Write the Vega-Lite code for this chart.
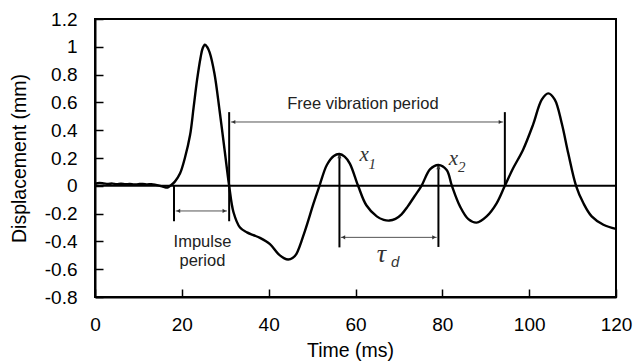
{
  "$schema": "https://vega.github.io/schema/vega-lite/v6.json",
  "width": 521,
  "height": 278,
  "autosize": {"type": "none"},
  "padding": {"left": 95, "top": 19, "right": 18, "bottom": 65},
  "background": "white",
  "config": {
    "view": {"stroke": "black", "strokeWidth": 2},
    "axis": {
      "domainColor": "black", "domainWidth": 2,
      "tickColor": "black", "tickWidth": 1.5, "tickSize": -8,
      "labelFont": "Liberation Sans", "labelFontSize": 19, "labelColor": "black",
      "titleFont": "Liberation Sans", "titleFontSize": 19.5, "titleFontWeight": "normal", "titleColor": "black",
      "grid": false, "labelFlush": false, "labelOverlap": false
    }
  },
  "datasets": {
    "curve": [
      {"t": 0, "d": 0.015}, {"t": 1, "d": 0.02}, {"t": 2, "d": 0.017}, {"t": 3, "d": 0.014}, {"t": 4, "d": 0.016},
      {"t": 5, "d": 0.012}, {"t": 6, "d": 0.015}, {"t": 7, "d": 0.011}, {"t": 8, "d": 0.013}, {"t": 9, "d": 0.009},
      {"t": 10, "d": 0.012}, {"t": 11, "d": 0.014}, {"t": 12, "d": 0.01}, {"t": 13, "d": 0.012}, {"t": 14, "d": 0.007},
      {"t": 15, "d": 0.0}, {"t": 16, "d": -0.01}, {"t": 16.7, "d": -0.012}, {"t": 17.3, "d": 0.0},
      {"t": 18.4, "d": 0.03}, {"t": 19.6, "d": 0.09}, {"t": 20.7, "d": 0.2}, {"t": 21.9, "d": 0.365},
      {"t": 22.7, "d": 0.56}, {"t": 23.5, "d": 0.76}, {"t": 24.3, "d": 0.92}, {"t": 24.8, "d": 0.99},
      {"t": 25.3, "d": 1.015}, {"t": 25.8, "d": 1.0}, {"t": 26.4, "d": 0.96}, {"t": 27.5, "d": 0.81},
      {"t": 28.7, "d": 0.54}, {"t": 29.9, "d": 0.245}, {"t": 30.9, "d": 0.0}, {"t": 31.9, "d": -0.19},
      {"t": 33.4, "d": -0.3}, {"t": 35.0, "d": -0.335}, {"t": 36.5, "d": -0.355}, {"t": 38.0, "d": -0.375},
      {"t": 40.3, "d": -0.42}, {"t": 42.2, "d": -0.49}, {"t": 43.5, "d": -0.52}, {"t": 44.5, "d": -0.53},
      {"t": 45.5, "d": -0.52}, {"t": 46.4, "d": -0.49}, {"t": 48.4, "d": -0.32}, {"t": 50.3, "d": -0.13},
      {"t": 51.7, "d": 0.0}, {"t": 53.4, "d": 0.15}, {"t": 55.0, "d": 0.215}, {"t": 56.3, "d": 0.229},
      {"t": 57.5, "d": 0.21}, {"t": 58.7, "d": 0.16}, {"t": 60.6, "d": 0.0}, {"t": 62.5, "d": -0.14},
      {"t": 64.9, "d": -0.22}, {"t": 66.5, "d": -0.245}, {"t": 67.8, "d": -0.25}, {"t": 69.2, "d": -0.238},
      {"t": 70.6, "d": -0.205}, {"t": 72.0, "d": -0.15}, {"t": 73.6, "d": -0.075},
      {"t": 75.2, "d": 0.0}, {"t": 77.2, "d": 0.12}, {"t": 79.1, "d": 0.15}, {"t": 81.0, "d": 0.114},
      {"t": 82.2, "d": 0.0}, {"t": 84.1, "d": -0.15}, {"t": 86.0, "d": -0.24}, {"t": 87.9, "d": -0.265},
      {"t": 90.2, "d": -0.22}, {"t": 92.5, "d": -0.126}, {"t": 94.4, "d": 0.0}, {"t": 96.3, "d": 0.126},
      {"t": 98.6, "d": 0.26}, {"t": 100.9, "d": 0.44}, {"t": 102.9, "d": 0.62}, {"t": 104.4, "d": 0.665},
      {"t": 105.9, "d": 0.62}, {"t": 107.5, "d": 0.45}, {"t": 109.0, "d": 0.234}, {"t": 110.8, "d": 0.0},
      {"t": 112.5, "d": -0.126}, {"t": 114.4, "d": -0.22}, {"t": 117.1, "d": -0.28}, {"t": 120, "d": -0.31}
    ],
    "blackLines": [
      {"t": 0, "d": 0, "t2": 120, "d2": 0},
      {"t": 18.2, "d": 0, "t2": 18.2, "d2": -0.255},
      {"t": 30.9, "d": 0.53, "t2": 30.9, "d2": -0.255},
      {"t": 94.4, "d": 0.53, "t2": 94.4, "d2": 0},
      {"t": 56.3, "d": 0.229, "t2": 56.3, "d2": -0.443},
      {"t": 79.1, "d": 0.15, "t2": 79.1, "d2": -0.44}
    ],
    "grayArrows": [
      {"t": 18.6, "d": -0.181, "t2": 30.4, "d2": -0.181},
      {"t": 31.3, "d": 0.459, "t2": 94.0, "d2": 0.459},
      {"t": 56.6, "d": -0.371, "t2": 78.7, "d2": -0.371}
    ],
    "heads": [
      {"t": 19.2, "d": -0.181, "dir": "left"},
      {"t": 29.8, "d": -0.181, "dir": "right"},
      {"t": 31.9, "d": 0.459, "dir": "left"},
      {"t": 93.4, "d": 0.459, "dir": "right"},
      {"t": 57.2, "d": -0.371, "dir": "left"},
      {"t": 78.1, "d": -0.371, "dir": "right"},
      {"t": 56.3, "d": 0.212, "dir": "up"},
      {"t": 79.1, "d": 0.133, "dir": "up"}
    ],
    "sansLabels": [
      {"t": 61.7, "d": 0.549, "label": "Free vibration period"},
      {"t": 24.75, "d": -0.438, "label": "Impulse"},
      {"t": 24.75, "d": -0.575, "label": "period"}
    ],
    "symbols": [
      {"t": 60.9, "d": 0.178, "label": "x"},
      {"t": 81.5, "d": 0.15, "label": "x"}
    ],
    "tau": [
      {"t": 64.9, "d": -0.548, "label": "τ"}
    ],
    "subs": [
      {"t": 63.0, "d": 0.124, "label": "1"},
      {"t": 83.6, "d": 0.099, "label": "2"}
    ],
    "subD": [
      {"t": 68.2, "d": -0.584, "label": "d"}
    ]
  },
  "encoding": {
    "x": {
      "field": "t", "type": "quantitative",
      "scale": {"domain": [0, 120], "nice": false, "zero": false},
      "axis": {"title": "Time (ms)", "values": [0, 20, 40, 60, 80, 100, 120], "labelPadding": 26, "titleY": 59, "titleBaseline": "alphabetic", "titleX": 255}
    },
    "y": {
      "field": "d", "type": "quantitative",
      "scale": {"domain": [-0.8, 1.2], "nice": false, "zero": false},
      "axis": {"title": "Displacement (mm)", "values": [-0.8, -0.6, -0.4, -0.2, 0, 0.2, 0.4, 0.6, 0.8, 1, 1.2], "labelPadding": 26, "labelExpr": "replace(format(datum.value, '~g'), '−', '-')", "titleX": -76, "titleBaseline": "middle"}
    }
  },
  "layer": [
    {
      "data": {"name": "blackLines"},
      "mark": {"type": "rule", "color": "black", "strokeWidth": 2},
      "encoding": {"x2": {"field": "t2"}, "y2": {"field": "d2"}}
    },
    {
      "data": {"name": "grayArrows"},
      "mark": {"type": "rule", "color": "#555555", "strokeWidth": 1},
      "encoding": {"x2": {"field": "t2"}, "y2": {"field": "d2"}}
    },
    {
      "data": {"name": "heads"},
      "mark": {"type": "point", "filled": true, "color": "#333333", "size": 18, "opacity": 1},
      "encoding": {
        "shape": {"field": "dir", "type": "nominal", "legend": null,
          "scale": {"domain": ["left", "right", "up"], "range": ["triangle-left", "triangle-right", "triangle-up"]}}
      }
    },
    {
      "data": {"name": "curve"},
      "mark": {"type": "line", "color": "black", "strokeWidth": 2.4, "interpolate": "catmull-rom"}
    },
    {
      "data": {"name": "sansLabels"},
      "mark": {"type": "text", "font": "Liberation Sans", "fontSize": 16.5, "color": "#222222", "align": "center", "baseline": "alphabetic"},
      "encoding": {"text": {"field": "label"}}
    },
    {
      "data": {"name": "symbols"},
      "mark": {"type": "text", "font": "Liberation Serif", "fontStyle": "italic", "fontSize": 21, "color": "#333333", "align": "left", "baseline": "alphabetic"},
      "encoding": {"text": {"field": "label"}}
    },
    {
      "data": {"name": "tau"},
      "mark": {"type": "text", "font": "Liberation Serif", "fontStyle": "italic", "fontSize": 26, "color": "#333333", "align": "left", "baseline": "alphabetic"},
      "encoding": {"text": {"field": "label"}}
    },
    {
      "data": {"name": "subs"},
      "mark": {"type": "text", "font": "Liberation Serif", "fontStyle": "italic", "fontSize": 15, "color": "#333333", "align": "left", "baseline": "alphabetic"},
      "encoding": {"text": {"field": "label"}}
    },
    {
      "data": {"name": "subD"},
      "mark": {"type": "text", "font": "Liberation Sans", "fontStyle": "italic", "fontSize": 15, "color": "#333333", "align": "left", "baseline": "alphabetic"},
      "encoding": {"text": {"field": "label"}}
    }
  ]
}
